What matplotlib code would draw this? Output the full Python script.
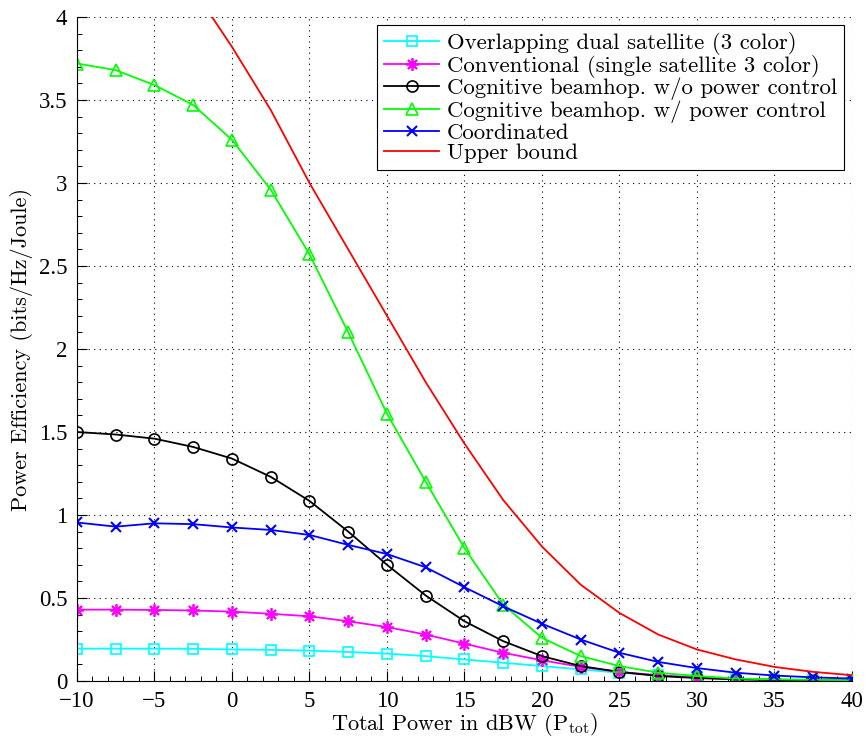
import matplotlib
matplotlib.use("Agg")
import matplotlib.pyplot as plt
from matplotlib.ticker import MultipleLocator
import numpy as np

plt.rcParams['font.family'] = 'serif'
plt.rcParams['font.serif'] = ['cmr10']
plt.rcParams['mathtext.fontset'] = 'cm'
plt.rcParams['axes.formatter.use_mathtext'] = True

x = [-10, -7.5, -5, -2.5, 0, 2.5, 5, 7.5, 10, 12.5, 15, 17.5, 20, 22.5, 25, 27.5, 30, 32.5, 35, 37.5, 40]

overlapping = [0.195, 0.195, 0.195, 0.194, 0.19, 0.188, 0.183, 0.175, 0.165, 0.15, 0.13, 0.11,
               0.09, 0.07, 0.05, 0.035, 0.022, 0.014, 0.009, 0.006, 0.004]
conventional = [0.43, 0.43, 0.428, 0.425, 0.418, 0.405, 0.39, 0.36, 0.325, 0.28, 0.225, 0.17,
                0.125, 0.085, 0.055, 0.035, 0.02, 0.012, 0.008, 0.005, 0.003]
cog_wo = [1.50, 1.485, 1.46, 1.41, 1.34, 1.23, 1.085, 0.90, 0.70, 0.515, 0.36, 0.24,
          0.15, 0.09, 0.055, 0.03, 0.018, 0.01, 0.006, 0.004, 0.002]
cog_w = [3.72, 3.68, 3.59, 3.47, 3.26, 2.96, 2.57, 2.10, 1.61, 1.20, 0.80, 0.46,
         0.26, 0.15, 0.09, 0.05, 0.03, 0.015, 0.01, 0.007, 0.005]
coordinated = [0.955, 0.93, 0.95, 0.945, 0.925, 0.91, 0.88, 0.82, 0.765, 0.685, 0.565, 0.45,
               0.345, 0.25, 0.17, 0.115, 0.078, 0.05, 0.033, 0.022, 0.015]
upper = [5.05, 4.8, 4.5, 4.17, 3.82, 3.44, 3.0, 2.6, 2.2, 1.8, 1.43, 1.09,
         0.81, 0.58, 0.41, 0.28, 0.19, 0.13, 0.085, 0.055, 0.035]

labels = ['Overlapping dual satellite (3 color)',
          'Conventional (single satellite 3 color)',
          'Cognitive beamhop. w/o power control',
          'Cognitive beamhop. w/ power control',
          'Coordinated',
          'Upper bound']

xticks = [-10, -5, 0, 5, 10, 15, 20, 25, 30, 35, 40]
xticklabels = ['\u221210', '\u22125', '0', '5', '10', '15', '20', '25', '30', '35', '40']
yticks = [0, 0.5, 1, 1.5, 2, 2.5, 3, 3.5, 4]
yticklabels = ['0', '0.5', '1', '1.5', '2', '2.5', '3', '3.5', '4']

fig = plt.figure(figsize=(8.67, 7.4), dpi=100)
ax = fig.add_axes([0.0888, 0.0797, 0.8939, 0.8973])

lw = 1.3
ax.plot(x, overlapping, color='#00ffff', marker='s', ms=7, mfc='none', mew=1.2, lw=lw, label=labels[0])
ax.plot(x, conventional, color='#ff00ff', marker=(8, 2, 0), ms=9, mew=1.3, lw=lw, label=labels[1])
ax.plot(x, cog_wo, color='black', marker='o', ms=8, mfc='none', mew=1.2, lw=lw, label=labels[2])
ax.plot(x, cog_w, color='#00ff00', marker='^', ms=9, mfc='none', mew=1.2, lw=lw, label=labels[3])
ax.plot(x, coordinated, color='#0000ff', marker='x', ms=7, mew=1.5, lw=lw, label=labels[4])
ax.plot(x, upper, color='#ff0000', lw=lw, label=labels[5])

ax.set_xlim(-10, 40)
ax.set_ylim(0, 4)
ax.set_xticks(xticks)
ax.set_yticks(yticks)
ax.set_xticklabels(xticklabels, fontfamily='Liberation Serif')
ax.set_yticklabels(yticklabels, fontfamily='Liberation Serif')
ax.xaxis.set_minor_locator(MultipleLocator(1))
ax.yaxis.set_minor_locator(MultipleLocator(0.1))
ax.grid(True, which='major', linestyle=(0, (1, 4)), color='black', linewidth=0.8)
ax.tick_params(which='major', direction='in', labelsize=16.5, length=7, width=0.8)
ax.tick_params(axis='x', which='major', pad=7.5)
ax.tick_params(axis='y', which='major', pad=7)
ax.tick_params(which='minor', direction='in', length=3.5, width=0.7)
ax.spines['top'].set_visible(False)
ax.spines['right'].set_visible(False)
for s in ax.spines.values():
    s.set_linewidth(0.8)

ax.set_xlabel(r'Total Power in dBW (P$_{\rm tot}$)', fontsize=16, labelpad=-1)
ax.set_ylabel('Power Efficiency (bits/Hz/Joule)', fontsize=16, labelpad=4)

leg = ax.legend(loc='upper right', fontsize=16.4, frameon=True, fancybox=False,
                edgecolor='black', framealpha=1, handlelength=2.4, labelspacing=0.0,
                borderpad=0.3, handletextpad=0.35, borderaxespad=0.35,
                bbox_to_anchor=(1.0, 1.0))
leg.get_frame().set_linewidth(0.8)

fig.savefig('out.png', dpi=100)
